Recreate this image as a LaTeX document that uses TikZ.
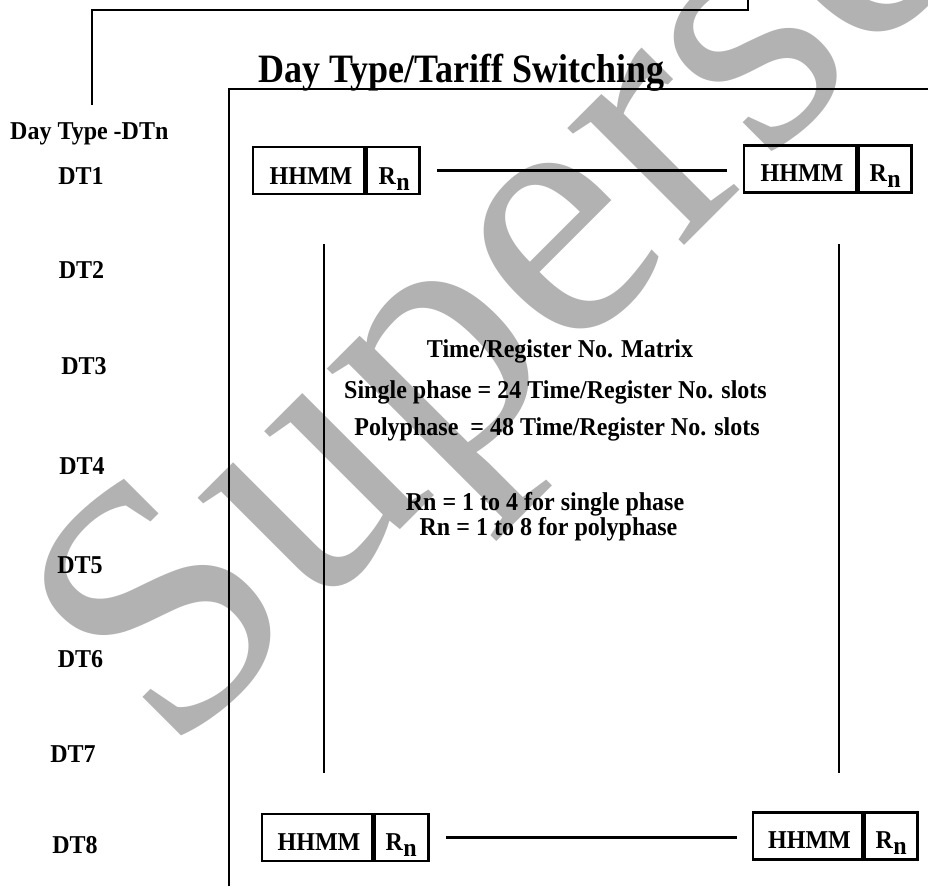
\documentclass[tikz,border=0pt]{standalone}
\usepackage{fontspec}
\usepackage{graphicx}
\setmainfont{Liberation Serif}
\newcommand{\tx}[1]{\scalebox{1}[1.07]{#1}}
\newcommand{\rnlabel}{\tx{R\kern0.5pt\raisebox{-6pt}{n}}}
\begin{document}
\begin{tikzpicture}[x=1pt,y=-1pt,
  lbl/.style={font=\fontsize{24}{28}\selectfont\bfseries, inner sep=0pt},
  cell/.style={draw, line width=2.9pt, minimum height=47pt, inner sep=0pt},
  ln/.style={line width=2.9pt}]
\useasboundingbox (0,0) rectangle (928,886);
\clip (0,0) rectangle (928,886);
% watermark
\node[rotate=45, anchor=base west, inner sep=0pt, text=black!30,
      font=\fontsize{360}{360}\selectfont] (wm) at (170,760) {Superseded};
% top bracket lines
\coordinate (p1) at (92,105);
\coordinate (p2) at (748,0);
\draw[ln] (p1) |- (92,10) -| (p2);
% title
\node[anchor=base west, inner sep=0pt, font=\fontsize{36}{40}\selectfont\bfseries] (title) at (258,82) {\scalebox{1}[1.12]{Day Type/Tariff Switching}};
% frame
\coordinate (f1) at (229,886);
\coordinate (f2) at (928,89);
\draw[ln] (f1) |- (f2);
% inner verticals
\coordinate (v1a) at (324,244); \coordinate (v1b) at (324,773);
\coordinate (v2a) at (839,244); \coordinate (v2b) at (839,773);
\draw[ln] (v1a) -- (v1b);
\draw[ln] (v2a) -- (v2b);
% left labels
\node[lbl, anchor=base west] (dtn) at (10,139) {\tx{Day Type -DTn}};
\node[lbl, anchor=base] (dt1) at (81,184) {\tx{DT1}};
\node[lbl, anchor=base] (dt2) at (81.5,278) {\tx{DT2}};
\node[lbl, anchor=base] (dt3) at (84,374) {\tx{DT3}};
\node[lbl, anchor=base] (dt4) at (82,474) {\tx{DT4}};
\node[lbl, anchor=base] (dt5) at (80,573) {\tx{DT5}};
\node[lbl, anchor=base] (dt6) at (80.5,667) {\tx{DT6}};
\node[lbl, anchor=base] (dt7) at (73,762) {\tx{DT7}};
\node[lbl, anchor=base] (dt8) at (75,853) {\tx{DT8}};
% top left box
\node[cell, minimum width=111pt] (a1) at (308.5,170.5) {};
\node[cell, minimum width=53pt, anchor=west] (b1) at (a1.east) {};
\node[lbl, anchor=base] (ta1) at ([shift={(2.5,14)}]a1.center) {\tx{HHMM}};
\node[lbl, anchor=base west] (tb1) at ([shift={(13,14)}]b1.west) {\rnlabel};
% top right box
\node[cell, minimum width=112pt] (a2) at (800,169) {};
\node[cell, minimum width=53pt, anchor=west] (b2) at (a2.east) {};
\node[lbl, anchor=base] (ta2) at ([shift={(2,12)}]a2.center) {\tx{HHMM}};
\node[lbl, anchor=base west] (tb2) at ([shift={(12,12)}]b2.west) {\rnlabel};
% bottom left box
\node[cell, minimum width=110pt] (a3) at (317,837.5) {};
\node[cell, minimum width=54pt, anchor=west] (b3) at (a3.east) {};
\node[lbl, anchor=base] (ta3) at ([shift={(2,12.5)}]a3.center) {\tx{HHMM}};
\node[lbl, anchor=base west] (tb3) at ([shift={(12,12.5)}]b3.west) {\rnlabel};
% bottom right box
\node[cell, minimum width=109pt] (a4) at (807.5,836) {};
\node[cell, minimum width=53pt, anchor=west] (b4) at (a4.east) {};
\node[lbl, anchor=base] (ta4) at ([shift={(2,12.5)}]a4.center) {\tx{HHMM}};
\node[lbl, anchor=base west] (tb4) at ([shift={(12,12.5)}]b4.west) {\rnlabel};
% connectors
\coordinate (c1) at ([xshift=16pt]b1.east);
\coordinate (c2) at ([xshift=-16pt]a2.west);
\draw[ln] (c1) -- (c1 -| c2);
\coordinate (c3) at ([xshift=16pt]b3.east);
\coordinate (c4) at ([xshift=-15pt]a4.west);
\draw[ln] (c3) -- (c3 -| c4);
% centre texts
\node[lbl, anchor=base] (m1) at (560,357) {\tx{Time/Register No. Matrix}};
\node[lbl, anchor=base] (m2) at (555.5,398) {\tx{Single phase = 24 Time/Register No. slots}};
\node[lbl, anchor=base] (m3) at (557,435) {\tx{Polyphase\ \ = 48 Time/Register No. slots}};
\node[lbl, anchor=base] (m4) at (545,510) {\tx{Rn = 1 to 4 for single phase}};
\node[lbl, anchor=base] (m5) at (548.5,535) {\tx{Rn = 1 to 8 for polyphase}};
\end{tikzpicture}
\end{document}
